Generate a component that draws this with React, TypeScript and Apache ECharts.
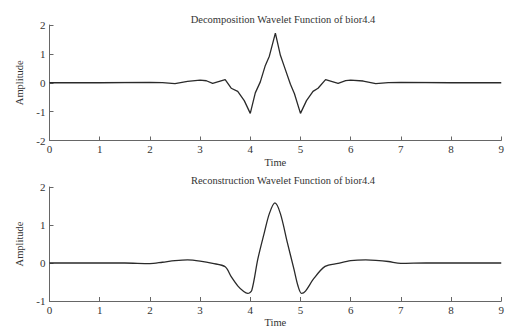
import React, { useEffect, useRef } from "react";
import * as echarts from "echarts";

const decTitle = "Decomposition Wavelet Function of bior4.4";
const recTitle = "Reconstruction Wavelet Function of bior4.4";
const xTicks = [0, 1, 2, 3, 4, 5, 6, 7, 8, 9];

// Decomposition wavelet psi (time, amplitude)
const decT = [0, 1, 2, 2.25, 2.5, 2.75, 3, 3.125, 3.25, 3.5, 3.62, 3.75, 3.88, 4, 4.1, 4.2, 4.3, 4.38, 4.5, 4.6, 4.68, 4.8, 4.88, 5, 5.12, 5.25, 5.35, 5.5, 5.75, 5.9, 6, 6.25, 6.5, 6.75, 7, 8, 9];
const decV = [0, 0, 0.01, 0.005, -0.03, 0.05, 0.09, 0.07, -0.02, 0.11, -0.19, -0.3, -0.62, -1.06, -0.35, 0.03, 0.6, 0.92, 1.72, 0.95, 0.55, -0.05, -0.38, -1.06, -0.62, -0.3, -0.19, 0.11, -0.02, 0.07, 0.09, 0.06, -0.03, 0.005, 0.01, 0, 0];

// Reconstruction wavelet psi (time, amplitude)
const recT = [0, 1, 1.5, 2, 2.25, 2.5, 2.75, 3, 3.25, 3.5, 3.62, 3.75, 3.87, 3.95, 4.03, 4.15, 4.28, 4.38, 4.49, 4.6, 4.74, 4.87, 4.95, 5.02, 5.1, 5.26, 5.49, 5.75, 6, 6.3, 6.5, 6.75, 7, 7.5, 9];
const recV = [0, 0, 0, -0.015, 0.02, 0.06, 0.08, 0.05, -0.01, -0.1, -0.36, -0.6, -0.75, -0.8, -0.72, 0.1, 0.8, 1.3, 1.58, 1.3, 0.53, -0.16, -0.6, -0.8, -0.74, -0.42, -0.09, -0.01, 0.06, 0.08, 0.07, 0.04, -0.01, 0, 0];

const FONT = "Liberation Serif";
const TEXT = "#333";
const AXIS = "#666";

export default function App() {
  const ref = useRef<HTMLDivElement>(null);
  useEffect(() => {
    if (!ref.current) return;
    const chart = echarts.init(ref.current, undefined, { renderer: "svg" });
    const mkX = (gi: number) => ({
      type: "value" as const,
      gridIndex: gi,
      min: 0,
      max: 9,
      interval: 1,
      name: "Time",
      nameLocation: "middle" as const,
      nameGap: 16,
      nameTextStyle: { fontFamily: FONT, fontSize: 10.5, color: TEXT },
      axisLine: { show: true, onZero: false, lineStyle: { color: AXIS, width: 1 } },
      axisTick: { show: true, inside: true, length: 4, lineStyle: { color: AXIS } },
      axisLabel: {
        fontFamily: FONT,
        fontSize: 11,
        color: TEXT,
        margin: 3,
        formatter: (v: number) => (xTicks.includes(v) ? String(v) : ""),
      },
      splitLine: { show: false },
    });
    const mkY = (gi: number, min: number, max: number) => ({
      type: "value" as const,
      gridIndex: gi,
      min,
      max,
      interval: 1,
      name: "Amplitude",
      nameLocation: "middle" as const,
      nameGap: 17,
      nameTextStyle: { fontFamily: FONT, fontSize: 10.5, color: TEXT },
      axisLine: { show: true, onZero: false, lineStyle: { color: AXIS, width: 1 } },
      axisTick: { show: true, inside: true, length: 4, lineStyle: { color: AXIS } },
      axisLabel: { fontFamily: FONT, fontSize: 11, color: TEXT, margin: 4 },
      splitLine: { show: false },
    });
    chart.setOption({
      animation: false,
      backgroundColor: "#fff",
      title: [
        {
          text: decTitle,
          left: 278,
          top: 9,
          textAlign: "center",
          textStyle: { fontFamily: FONT, fontSize: 10.5, fontWeight: "normal", color: TEXT },
        },
        {
          text: recTitle,
          left: 278,
          top: 170,
          textAlign: "center",
          textStyle: { fontFamily: FONT, fontSize: 10.5, fontWeight: "normal", color: TEXT },
        },
      ],
      grid: [
        { left: 49.5, top: 25, right: 1, height: 115.5 },
        { left: 49.5, top: 187, right: 1, height: 115.5 },
      ],
      xAxis: [mkX(0), mkX(1)],
      yAxis: [mkY(0, -2, 2), mkY(1, -1, 2)],
      series: [
        {
          type: "line",
          xAxisIndex: 0,
          yAxisIndex: 0,
          data: decT.map((t, i) => [t, decV[i]]),
          showSymbol: false,
          lineStyle: { color: "#2a2a2a", width: 1.3 },
        },
        {
          type: "line",
          xAxisIndex: 1,
          yAxisIndex: 1,
          data: recT.map((t, i) => [t, recV[i]]),
          showSymbol: false,
          smooth: 0.3,
          lineStyle: { color: "#2a2a2a", width: 1.3 },
        },
      ],
    });
    return () => chart.dispose();
  }, []);
  return (
    <div
      ref={ref}
      style={{ position: "absolute", left: 0, top: 0, width: 507, height: 329 }}
    />
  );
}
